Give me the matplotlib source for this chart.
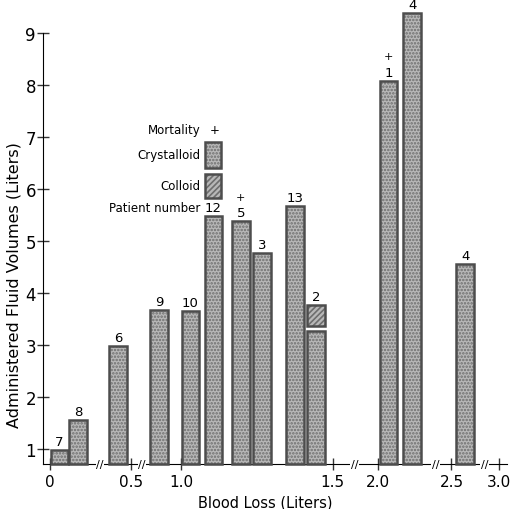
import numpy as np
import matplotlib
matplotlib.use('Agg')
import matplotlib.pyplot as plt
import matplotlib.transforms as mtransforms
from matplotlib.patches import Rectangle

# data
patient = ['7', '8', '6', '9', '10', '12', '5', '3', '13', '2', '1', '4', '4']
blood_loss = [0.06, 0.174, 0.42, 0.78, 1.03, 1.106, 1.196, 1.266, 1.376, 1.444, 2.07, 2.233, 2.646]
crystalloid = [0.98, 1.56, 2.98, 3.67, 3.65, 5.48, 5.38, 4.77, 5.67, 3.27, 8.08, 9.38, 4.56]
colloid = [0, 0, 0, 0, 0, 0, 0, 0, 0, 0.40, 0, 0, 0]
mortality = [0, 0, 0, 0, 0, 0, 1, 0, 0, 0, 1, 0, 0]

x_ticks = [0, 0.5, 1.0, 1.5, 2.0, 2.5, 3.0]
x_ticklabels = ['0', '0.5', '1.0', '1.5', '2.0', '2.5', '3.0']
x_breaks = [0.31, 0.61, 1.74, 2.39, 2.85]
y_ticks = [1, 2, 3, 4, 5, 6, 7, 8, 9]

# broken axis: piecewise linear mapping of blood loss to drawing units
anchor_bl = [-1.0, 0, 0.5, 1.0, 1.5, 2.0, 2.5, 3.0, 4.0]
anchor_u = [-164.0, 0, 82, 133, 286, 332, 406, 454, 550]

def fwd(v):
    return np.interp(v, anchor_bl, anchor_u)

def inv(u):
    return np.interp(u, anchor_u, anchor_bl)

bar_w = 18.0
base = 0.712
gap = 0.1
face = '#b8b8b8'
dots = '#6e6e6e'
edge = '#4d4d4d'
plt.rcParams['font.family'] = ['DejaVu Sans']
plt.rcParams['hatch.linewidth'] = 1.2

fig = plt.figure(figsize=(5.16, 5.10), dpi=100)
ax = fig.add_axes([0.083, 0.088, 0.907, 0.912])
ax.set_xscale('function', functions=(fwd, inv))
ax.set_xlim(inv(-7), inv(466))
ax.set_ylim(base, 9.65)


def draw_bar(xc, y0, y1, hatch):
    u = fwd(xc)
    left = inv(u - bar_w / 2)
    right = inv(u + bar_w / 2)
    ax.bar(left, y1 - y0, width=right - left, bottom=y0, align='edge',
           facecolor=face, edgecolor=dots, hatch=hatch, linewidth=0, clip_on=False, zorder=2)
    ax.bar(left, y1 - y0, width=right - left, bottom=y0, align='edge',
           fill=False, edgecolor=edge, linewidth=1.8, clip_on=False, zorder=3)


for i in range(len(patient)):
    draw_bar(blood_loss[i], base, crystalloid[i], '.....')
    top = crystalloid[i]
    if colloid[i] > 0:
        draw_bar(blood_loss[i], crystalloid[i] + gap, crystalloid[i] + gap + colloid[i], '//////')
        top = crystalloid[i] + gap + colloid[i]
    ax.annotate(patient[i], (blood_loss[i], top), xytext=(0, 1.5), textcoords='offset points',
                ha='center', va='bottom', fontsize=9.5, annotation_clip=False)
    if mortality[i]:
        ax.annotate('+', (blood_loss[i], top), xytext=(0, 14), textcoords='offset points',
                    ha='center', va='bottom', fontsize=8, annotation_clip=False)

# axes styling
for s in ['top', 'right']:
    ax.spines[s].set_visible(False)
ax.spines['left'].set_bounds(base, 9)
ax.spines['bottom'].set_bounds(inv(-7), inv(462))
ax.set_xticks(x_ticks)
ax.set_xticklabels(x_ticklabels)
ax.set_yticks(y_ticks)
ax.tick_params(axis='both', direction='inout', length=8, width=1, color='#333333')
ax.tick_params(axis='y', labelsize=12, pad=1)
ax.tick_params(axis='x', labelsize=11, pad=3)
ax.xaxis.set_minor_locator(matplotlib.ticker.NullLocator())

trans = mtransforms.blended_transform_factory(ax.transData, ax.transAxes)
for b in x_breaks:
    ax.text(b, 0, '//', transform=trans, ha='center', va='center', fontsize=8,
            bbox=dict(facecolor='white', edgecolor='none', pad=0.5), clip_on=False, zorder=4)

ax.set_xlabel('Blood Loss (Liters)', fontsize=10.5, labelpad=1)
ax.xaxis.set_label_coords(0.476, -0.065)
ax.set_ylabel('Administered Fluid Volumes (Liters)', fontsize=11.5)
ax.yaxis.set_label_coords(-0.046, 0.387)

# legend drawn by hand
ax.text(0.338, 0.720, 'Mortality', transform=ax.transAxes, ha='right', va='center', fontsize=8.5)
ax.text(0.368, 0.720, '+', transform=ax.transAxes, ha='center', va='center', fontsize=8.5)
ax.text(0.336, 0.665, 'Crystalloid', transform=ax.transAxes, ha='right', va='center', fontsize=8.5)
ax.text(0.336, 0.598, 'Colloid', transform=ax.transAxes, ha='right', va='center', fontsize=8.5)
ax.text(0.336, 0.551, 'Patient number', transform=ax.transAxes, ha='right', va='center', fontsize=8.5)
for y0, h, hatch in [(0.637, 0.055, '.....'), (0.572, 0.052, '//////')]:
    ax.add_patch(Rectangle((0.347, y0), 0.034, h, transform=ax.transAxes,
                           facecolor=face, edgecolor=dots, hatch=hatch, linewidth=0))
    ax.add_patch(Rectangle((0.347, y0), 0.034, h, transform=ax.transAxes,
                           fill=False, edgecolor=edge, linewidth=1.8))

fig.savefig('out.png', dpi=100)
